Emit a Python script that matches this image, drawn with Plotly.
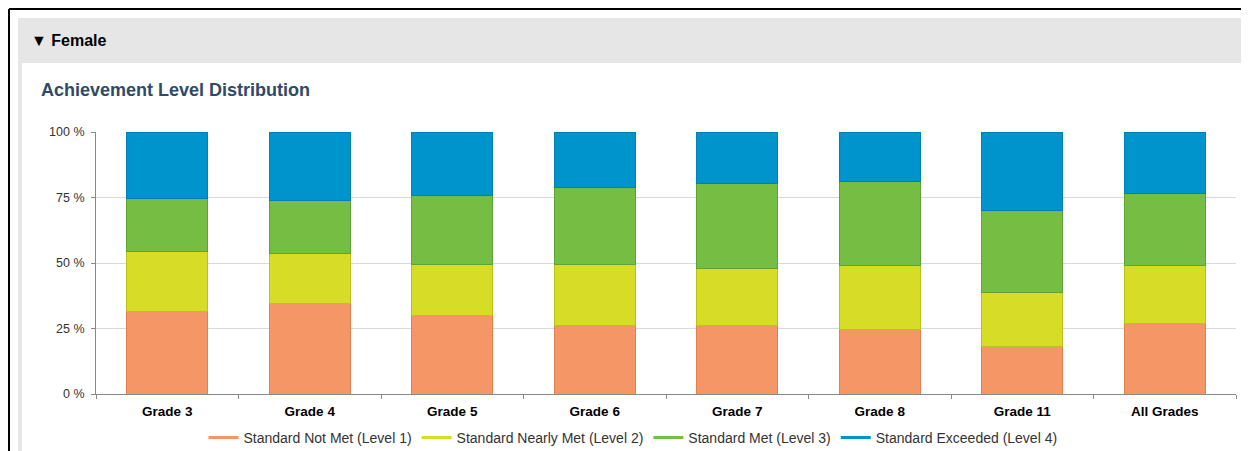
import plotly.graph_objects as go

# page body has an 8px margin, so the figure is drawn 8px smaller and shifted
OFF = 8
W, H = 1249 - OFF, 451 - OFF
# plot area in window pixels
PL, PR, PT, PB = 96, 1236, 132, 394

grades = ["Grade 3", "Grade 4", "Grade 5", "Grade 6", "Grade 7", "Grade 8", "Grade 11", "All Grades"]
level1 = [31.6, 34.4, 29.8, 26.0, 26.3, 24.8, 18.1, 27.1]
level2 = [22.7, 19.4, 19.8, 23.6, 21.7, 24.2, 20.7, 21.9]
level3 = [20.2, 20.2, 26.0, 29.4, 32.2, 32.2, 31.4, 27.5]
level4 = [25.5, 26.0, 24.4, 21.0, 19.8, 18.8, 29.8, 23.5]
y_ticks = [0, 25, 50, 75, 100]
y_labels = ["0 %", "25 %", "50 %", "75 %", "100 %"]

names = ["Standard Not Met (Level 1)", "Standard Nearly Met (Level 2)",
         "Standard Met (Level 3)", "Standard Exceeded (Level 4)"]
fills = ["#F49666", "#D7DD26", "#75BD43", "#0094CC"]
edges = ["#E0814F", "#BCC21C", "#5FA334", "#0080B5"]
series = [level1, level2, level3, level4]

FONT = "Arial, 'Liberation Sans', sans-serif"


def px(x):
    return (x - PL) / (PR - PL)


def py(y):
    return (PB - y) / (PB - PT)


fig = go.Figure()
for name, vals, c, e in zip(names, series, fills, edges):
    fig.add_trace(go.Bar(x=grades, y=vals, name=name, marker_color=c,
                         marker_line=dict(color=e, width=1), showlegend=False))
# legend entries drawn as short lines like the original
for name, c in zip(names, fills):
    fig.add_trace(go.Scatter(x=[None], y=[None], mode="lines", name=name,
                             line=dict(color=c, width=3)))

shapes = [
    # outer black frame
    dict(type="line", xref="paper", yref="paper", x0=px(9), x1=px(1249), y0=py(9), y1=py(9),
         line=dict(color="black", width=2)),
    dict(type="line", xref="paper", yref="paper", x0=px(9), x1=px(9), y0=py(9), y1=py(451),
         line=dict(color="black", width=2)),
    # grey header panel
    dict(type="rect", xref="paper", yref="paper", x0=px(18), x1=px(1249), y0=py(63), y1=py(18),
         fillcolor="#E6E6E6", line=dict(width=0), layer="below"),
    dict(type="rect", xref="paper", yref="paper", x0=px(18), x1=px(22), y0=py(451), y1=py(63),
         fillcolor="#E6E6E6", line=dict(width=0), layer="below"),
]

annotations = [
    dict(text="<b>▼ Female</b>", xref="paper", yref="paper", x=px(29), y=py(40),
         xanchor="left", yanchor="middle", showarrow=False,
         font=dict(family=FONT, size=16, color="black")),
    dict(text="<b>Achievement Level Distribution</b>", xref="paper", yref="paper",
         x=px(39), y=py(90), xanchor="left", yanchor="middle", showarrow=False,
         font=dict(family=FONT, size=18, color="#2F4A68")),
]

fig.update_layout(
    width=W, height=H,
    margin=dict(l=PL - OFF, r=1249 - PR, t=PT - OFF, b=451 - PB, pad=0, autoexpand=False),
    barmode="stack", bargap=0.43,
    paper_bgcolor="white", plot_bgcolor="white",
    font=dict(family=FONT, size=13, color="#333333"),
    shapes=shapes, annotations=annotations,
    legend=dict(orientation="h", x=px(633), xanchor="center", y=py(438), yanchor="middle",
                traceorder="normal",
                font=dict(family=FONT, size=14, color="#333333"),
                itemwidth=30, tracegroupgap=0, bgcolor="rgba(0,0,0,0)"),
    xaxis=dict(tickson="boundaries", ticks="outside", ticklen=4, tickcolor="#888888",
               showline=True, linecolor="#888888", linewidth=1, showgrid=False,
               ticklabelstandoff=5,
               tickfont=dict(family=FONT, size=13.5, color="black"),
               tickprefix="<b>", ticksuffix="</b>", fixedrange=True),
    yaxis=dict(range=[0, 100], tickmode="array", tickvals=y_ticks, ticktext=y_labels,
               ticks="outside", ticklen=4, tickcolor="#888888",
               showline=True, linecolor="#888888", linewidth=1,
               showgrid=True, gridcolor="#D9D9D9", gridwidth=1, zeroline=False,
               ticklabelstandoff=4,
               tickfont=dict(family=FONT, size=12.5, color="#333333"), fixedrange=True),
)

fig.write_html("out.html", config={"displayModeBar": False})
